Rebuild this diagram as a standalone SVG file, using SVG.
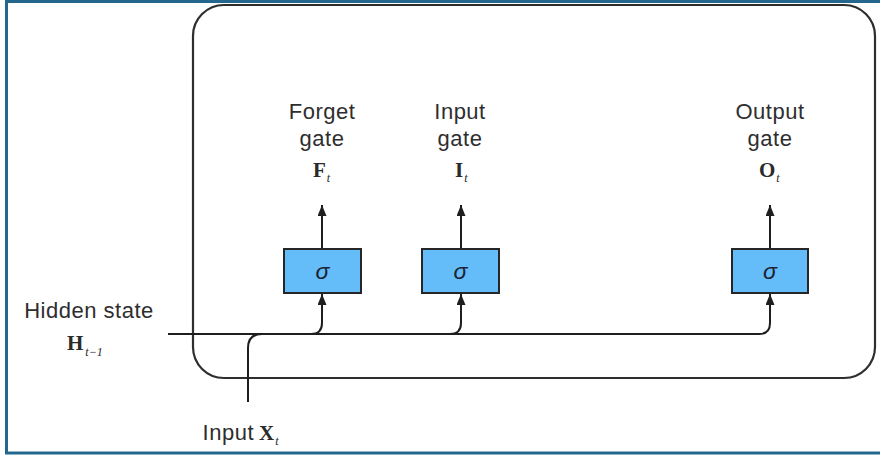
<svg xmlns="http://www.w3.org/2000/svg" width="880" height="457" viewBox="0 0 880 457">
  <style>
    .lbl { font-family: "Liberation Sans", Arial, sans-serif; font-size: 22px; letter-spacing: 0.5px; fill: #2e2e2e; text-anchor: middle; }
    .math { font-family: "Liberation Serif", "Times New Roman", serif; font-weight: bold; font-size: 21px; fill: #2a2a2a; }
    .sub { font-family: "Liberation Serif", "Times New Roman", serif; font-style: italic; font-weight: normal; font-size: 12px; }
    .gate rect { fill: #64bcf9; stroke: #262626; stroke-width: 2; }
    .gate text { font-family: "Liberation Sans", Arial, sans-serif; font-style: italic; font-size: 23px; fill: #1c2233; text-anchor: middle; }
    .wire { fill: none; stroke: #1e1e1e; stroke-width: 2; }
  </style>
  <defs>
    <marker id="arrow" markerUnits="userSpaceOnUse" markerWidth="11" markerHeight="9" viewBox="0 0 11 9" refX="11" refY="4.5" orient="auto">
      <path d="M0,0 L11,4.5 L0,9 Z" fill="#1e1e1e"/>
    </marker>
  </defs>

  <rect width="880" height="457" fill="#ffffff"/>
  <!-- outer frame -->
  <rect x="6.5" y="1.5" width="880" height="451.5" fill="none" stroke="#23678f" stroke-width="3"/>

  <!-- LSTM cell boundary -->
  <rect id="cell" x="193" y="5" width="682" height="373" rx="31" ry="31" fill="none" stroke="#2e2e2e" stroke-width="2.2"/>

  <!-- connectors -->
  <g id="connectors">
    <path class="wire" d="M168,334 H759 Q770,334 770,323 V294" marker-end="url(#arrow)"/>
    <path class="wire" d="M311,334 Q322,334 322,323 V294" marker-end="url(#arrow)"/>
    <path class="wire" d="M450,334 Q461,334 461,323 V294" marker-end="url(#arrow)"/>
    <path class="wire" d="M248,402 V348 Q248,334 262,334 H312"/>
    <path class="wire" d="M322,249 V205" marker-end="url(#arrow)"/>
    <path class="wire" d="M461,249 V205" marker-end="url(#arrow)"/>
    <path class="wire" d="M770,249 V205" marker-end="url(#arrow)"/>
  </g>

  <!-- gates -->
  <g id="forget-gate" class="gate">
    <rect x="284" y="249" width="77" height="44"/>
    <text x="322.5" y="279">σ</text>
  </g>
  <g id="input-gate" class="gate">
    <rect x="422" y="249" width="77" height="44"/>
    <text x="460.5" y="279">σ</text>
  </g>
  <g id="output-gate" class="gate">
    <rect x="732" y="249" width="76" height="44"/>
    <text x="770" y="279">σ</text>
  </g>

  <!-- gate labels -->
  <g id="forget-label">
    <text class="lbl" x="322" y="119">Forget</text>
    <text class="lbl" x="322" y="146">gate</text>
    <text class="math" x="313" y="177">F<tspan class="sub" dx="1" dy="5">t</tspan></text>
  </g>
  <g id="input-label">
    <text class="lbl" x="460" y="119">Input</text>
    <text class="lbl" x="460" y="146">gate</text>
    <text class="math" x="455" y="177">I<tspan class="sub" dx="1" dy="5">t</tspan></text>
  </g>
  <g id="output-label">
    <text class="lbl" x="770" y="119">Output</text>
    <text class="lbl" x="770" y="146">gate</text>
    <text class="math" x="759" y="177">O<tspan class="sub" dx="1" dy="5">t</tspan></text>
  </g>

  <!-- external inputs -->
  <g id="hidden-state">
    <text class="lbl" x="89" y="318">Hidden state</text>
    <text class="math" x="67" y="350">H<tspan class="sub" dx="2" dy="6">t−1</tspan></text>
  </g>
  <g id="input-x">
    <text class="lbl" x="254" y="440" style="text-anchor:end">Input</text>
    <text class="math" x="259" y="440">X<tspan class="sub" dx="1" dy="5">t</tspan></text>
  </g>
</svg>
